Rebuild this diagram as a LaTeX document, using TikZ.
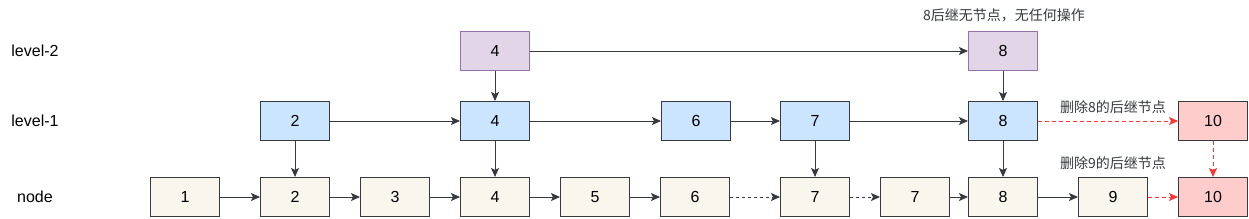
\documentclass[tikz,border=0pt]{standalone}
\usepackage{fontspec}
\setmainfont{Liberation Sans}
\newfontfamily\cjk{Noto Sans CJK SC}
\usetikzlibrary{arrows.meta,positioning}
\definecolor{edge}{HTML}{36393D}
\definecolor{base}{HTML}{F9F7ED}
\definecolor{lvone}{HTML}{CCE5FF}
\definecolor{lvtwo}{HTML}{E1D5E7}
\definecolor{lvtwoline}{HTML}{9673A6}
\definecolor{gone}{HTML}{FFCCCC}
\definecolor{del}{HTML}{FF3333}

\begin{document}
\begin{tikzpicture}[x=1pt,y=-1pt,
      font=\fontsize{16pt}{19pt}\selectfont,
      cell/.style={draw=edge,line width=0.9pt,minimum width=69.1pt,minimum height=39.1pt,inner sep=0pt},
      nd/.style={cell,fill=base},
      one/.style={cell,fill=lvone},
      two/.style={cell,fill=lvtwo,draw=lvtwoline},
      rm/.style={cell,fill=gone},
      note/.style={font=\cjk\fontsize{14pt}{16pt}\selectfont,text=edge},
      arr/.style={-{Stealth[length=9pt,width=8pt,inset=2pt]},line width=0.9pt,draw=edge},
      dot/.style={arr,dash pattern=on 3pt off 3pt},
      red/.style={arr,draw=del,line width=1pt,dash pattern=on 4pt off 3pt}]
    \useasboundingbox (0,0) rectangle (1249,218);

    % level labels
    \node (lv2) at (35,51) {level-2};
    \node (lv1) at (35,121) {level-1};
    \node (lvn) at (35,197) {node};

    % bottom row
    \node[nd] (n1) at (185,197) {1};
    \node[nd,right=40pt of n1] (n2) {2};
    \node[nd,right=30pt of n2] (n3) {3};
    \node[nd,right=30pt of n3] (n4) {4};
    \node[nd,right=30pt of n4] (n5) {5};
    \node[nd,right=30pt of n5] (n6) {6};
    \node[nd,right=50pt of n6] (n7) {7};
    \node[nd,right=30pt of n7] (n7b) {7};
    \node[nd,right=18pt of n7b] (n8) {8};
    \node[nd,right=40pt of n8] (n9) {9};
    \node[rm,right=30pt of n9] (n10) {10};

    % level-1
    \node[one,above=36pt of n2] (a2) {2};
    \node[one,above=36pt of n4] (a4) {4};
    \node[one,above=36pt of n6,xshift=1pt] (a6) {6};
    \node[one,above=36pt of n7] (a7) {7};
    \node[one,above=36pt of n8] (a8) {8};
    \node[rm,above=36pt of n10] (a10) {10};

    % level-2
    \node[two,above=30pt of a4] (b4) {4};
    \node[two,above=30pt of a8] (b8) {8};

    % notes
    \node[note] (t8) at (1004,15) {8后继无节点，无任何操作};
    \node[note] (d8) at (1113,107) {删除8的后继节点};
    \node[note] (d9) at (1113,163) {删除9的后继节点};

    % links
    \draw[arr] (n1) -- (n2);
    \draw[arr] (n2) -- (n3);
    \draw[arr] (n3) -- (n4);
    \draw[arr] (n4) -- (n5);
    \draw[arr] (n5) -- (n6);
    \draw[dot] (n6) -- (n7);
    \draw[dot] (n7) -- (n7b);
    \draw[arr] (n7b) -- (n8);
    \draw[arr] (n8) -- (n9);
    \draw[red] (n9) -- (n10);

    \draw[arr] (a2) -- (a4);
    \draw[arr] (a4) -- (a6);
    \draw[arr] (a6) -- (a7);
    \draw[arr] (a7) -- (a8);
    \draw[red] (a8) -- (a10);
    \draw[red] (a10) -- (n10);

    \draw[arr] (a2) -- (n2);
    \draw[arr] (a4) -- (n4);
    \draw[arr] (a7) -- (n7);
    \draw[arr] (a8) -- (n8);

    \draw[arr] (b4) -- (b8);
    \draw[arr] (b4) -- (a4);
    \draw[arr] (b8) -- (a8);
  \end{tikzpicture}
\end{document}
